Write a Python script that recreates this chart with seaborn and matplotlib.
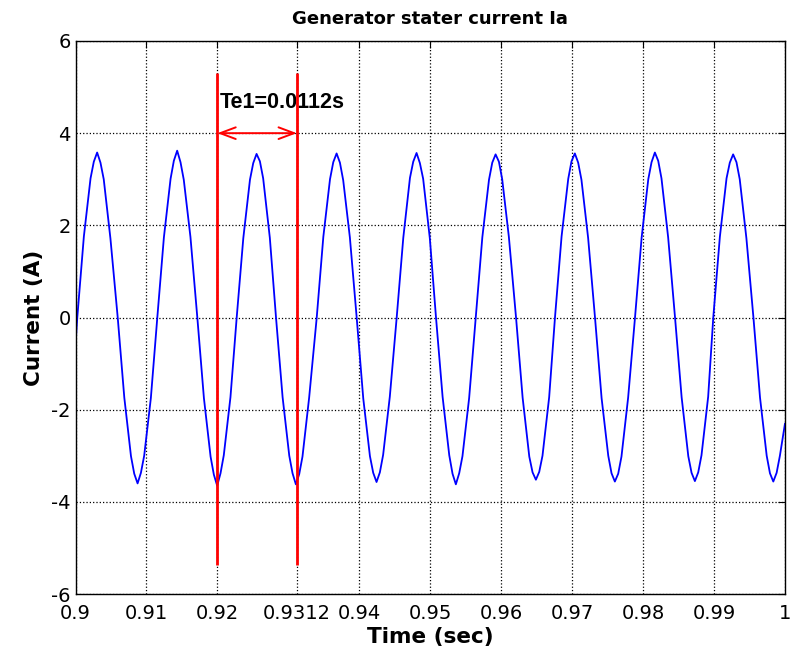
import matplotlib
matplotlib.use("Agg")
import matplotlib.pyplot as plt
import seaborn as sns

# Stator current samples (time in s, current in A)
time_s = [
    0.90000,
    0.90025, 0.90118, 0.90212, 0.90258, 0.90305, 0.90352, 0.90398, 0.90492,
    0.90595, 0.90688, 0.90782, 0.90828, 0.90875, 0.90922, 0.90968, 0.91062,
    0.91153, 0.91246, 0.91340, 0.91386, 0.91433, 0.91480, 0.91526, 0.91620,
    0.91717, 0.91810, 0.91904, 0.91950, 0.91997, 0.92044, 0.92090, 0.92184,
    0.92272, 0.92365, 0.92459, 0.92505, 0.92552, 0.92599, 0.92645, 0.92739,
    0.92826, 0.92919, 0.93013, 0.93059, 0.93106, 0.93153, 0.93199, 0.93293,
    0.93400, 0.93493, 0.93587, 0.93633, 0.93680, 0.93727, 0.93773, 0.93867,
    0.93963, 0.94056, 0.94150, 0.94196, 0.94243, 0.94290, 0.94336, 0.94430,
    0.94527, 0.94620, 0.94714, 0.94760, 0.94807, 0.94854, 0.94900, 0.94994,
    0.95081, 0.95174, 0.95268, 0.95314, 0.95361, 0.95408, 0.95454, 0.95548,
    0.95641, 0.95734, 0.95828, 0.95874, 0.95921, 0.95968, 0.96014, 0.96108,
    0.96209, 0.96302, 0.96396, 0.96442, 0.96489, 0.96536, 0.96582, 0.96676,
    0.96758, 0.96851, 0.96945, 0.96991, 0.97038, 0.97085, 0.97131, 0.97225,
    0.97322, 0.97415, 0.97509, 0.97555, 0.97602, 0.97649, 0.97695, 0.97789,
    0.97886, 0.97979, 0.98073, 0.98119, 0.98166, 0.98213, 0.98259, 0.98353,
    0.98450, 0.98543, 0.98637, 0.98683, 0.98730, 0.98777, 0.98823, 0.98917,
    0.98989, 0.99082, 0.99176, 0.99222, 0.99269, 0.99316, 0.99362, 0.99456,
    0.99555, 0.99648, 0.99742, 0.99788, 0.99835, 0.99882, 0.99928, 1.00000,
]
current_a = [
    -0.60,
    0.00, 1.76, 3.02, 3.38, 3.58, 3.36, 3.00, 1.72,
    0.00, -1.74, -3.01, -3.39, -3.60, -3.37, -3.00, -1.75,
    0.00, 1.74, 3.01, 3.40, 3.62, 3.37, 2.99, 1.75,
    0.00, -1.75, -3.02, -3.41, -3.65, -3.38, -2.99, -1.73,
    0.00, 1.72, 2.99, 3.35, 3.55, 3.39, 3.02, 1.73,
    0.00, -1.73, -3.00, -3.38, -3.62, -3.40, -3.02, -1.74,
    0.00, 1.75, 3.00, 3.37, 3.56, 3.36, 2.98, 1.74,
    0.00, -1.76, -3.01, -3.37, -3.57, -3.36, -2.98, -1.72,
    0.00, 1.73, 3.03, 3.38, 3.57, 3.35, 3.01, 1.72,
    0.00, -1.72, -2.99, -3.39, -3.62, -3.38, -3.01, -1.75,
    0.00, 1.74, 2.99, 3.36, 3.54, 3.38, 3.00, 1.75,
    0.00, -1.74, -3.02, -3.36, -3.52, -3.35, -3.00, -1.73,
    0.00, 1.76, 3.01, 3.39, 3.56, 3.36, 2.99, 1.73,
    0.00, -1.75, -3.00, -3.38, -3.56, -3.39, -3.02, -1.74,
    0.00, 1.73, 3.00, 3.37, 3.58, 3.40, 3.02, 1.74,
    0.00, -1.73, -3.01, -3.37, -3.55, -3.36, -2.99, -1.72,
    0.00, 1.75, 3.02, 3.36, 3.54, 3.37, 3.00, 1.72,
    0.00, -1.74, -3.00, -3.38, -3.56, -3.37, -3.00, -2.30,
]

# Period markers
marker_times = [0.92, 0.9312]
marker_low, marker_high = -5.38, 5.3
arrow_level = 4.0
period_label = "Te1=0.0112s"

x_ticks = [0.9, 0.91, 0.92, 0.9312, 0.94, 0.95, 0.96, 0.97, 0.98, 0.99, 1.0]
x_tick_labels = ["0.9", "0.91", "0.92", "0.9312", "0.94", "0.95",
                 "0.96", "0.97", "0.98", "0.99", "1"]
y_ticks = [-6, -4, -2, 0, 2, 4, 6]

sns.set_style("white")
plt.rcParams["font.family"] = ["DejaVu Sans"]
plt.rcParams["axes.unicode_minus"] = False
plt.rcParams["text.color"] = "black"
plt.rcParams["axes.labelcolor"] = "black"

W, H = 791, 654
fig = plt.figure(figsize=(W / 100, H / 100), dpi=100)
left, right, top, bottom = 75.5, 785, 41, 594
ax = fig.add_axes([left / W, 1 - bottom / H, (right - left) / W, (bottom - top) / H])

sns.lineplot(x=time_s, y=current_a, ax=ax, color="#0000ff", linewidth=1.3,
             estimator=None, sort=False)

ax.set_xlim(0.9, 1.0)
ax.set_ylim(-6, 6)
ax.set_xticks(x_ticks)
ax.set_xticklabels(x_tick_labels)
ax.set_yticks(y_ticks)
ax.grid(True, color="black", linestyle=":", linewidth=0.9)
ax.set_axisbelow(True)

ax.tick_params(direction="in", length=5, width=0.8, top=True, right=True,
               labelsize=14, colors="black")
ax.tick_params(axis="x", pad=7)
ax.tick_params(axis="y", pad=3.5)
for sp in ax.spines.values():
    sp.set_color("black")
    sp.set_linewidth(1.0)

# Period marker lines and arrow
ax.text(0.92037, 4.54, period_label, fontsize=15.5, fontweight="bold",
        family=["Liberation Sans", "DejaVu Sans"], va="baseline", ha="left",
        color="black", zorder=2.5)
ax.vlines(marker_times, marker_low, marker_high, colors="red", linewidth=2.0, zorder=3)
ax.annotate("", xy=(marker_times[1], arrow_level), xytext=(marker_times[0], arrow_level),
            arrowprops=dict(arrowstyle="<->,head_length=0.8,head_width=0.3",
                            color="red", lw=1.4, shrinkA=0, shrinkB=0,
                            mutation_scale=14), zorder=4)

ax.set_title("Generator stater current Ia", fontsize=13, fontweight="bold",
             pad=12, color="black")
ax.set_xlabel("Time (sec)", fontsize=15.5, fontweight="bold", labelpad=3)
ax.set_ylabel("Current (A)", fontsize=15.5, fontweight="bold", labelpad=5)

fig.savefig("out.png", dpi=100, facecolor="white")
